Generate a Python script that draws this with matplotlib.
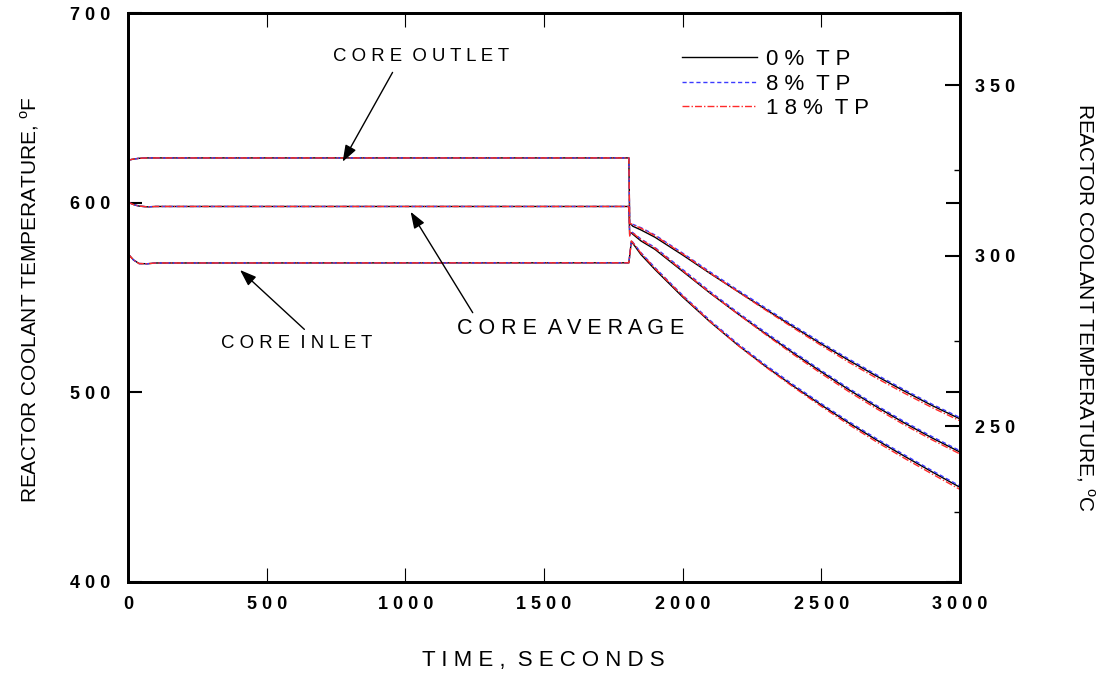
import matplotlib
matplotlib.use("Agg")
import matplotlib.pyplot as plt
from matplotlib import font_manager

# time axis, seconds
t = [0, 20, 40, 70, 100, 1806, 1809, 1815, 1820, 1850, 1900, 2000, 2100,
     2200, 2300, 2400, 2500, 2600, 2700, 2800, 2900, 3000]

# core outlet, deg F
outlet_0 = [622.4, 623.0, 623.4, 623.6, 623.6, 623.6, 589.0, 588.4, 587.6, 585.6, 581.8, 572.4, 562.6,
            553.1, 543.7, 534.5, 525.5, 516.8, 508.5, 500.6, 493.0, 486.0]
outlet_8 = [622.4, 623.0, 623.4, 623.6, 623.6, 623.6, 589.2, 589.0, 588.6, 586.8, 583.0, 573.4, 563.4,
            553.8, 544.4, 535.2, 526.2, 517.5, 509.2, 501.3, 493.7, 486.7]
outlet_18 = [622.4, 623.0, 623.4, 623.6, 623.6, 623.6, 589.0, 588.8, 588.4, 586.5, 582.6, 573.0, 562.8,
             553.0, 543.3, 533.9, 524.7, 515.8, 507.4, 499.5, 491.9, 485.0]

# core average
average_0 = [600.3, 599.0, 598.2, 597.8, 598.0, 598.0, 583.0, 584.2, 583.4, 579.8, 575.4, 563.8, 552.2,
             541.3, 530.8, 520.6, 510.8, 501.3, 492.3, 483.8, 475.9, 468.5]
average_8 = [600.3, 599.0, 598.2, 597.8, 598.0, 598.0, 583.0, 584.8, 584.2, 580.8, 576.4, 564.8, 553.0,
             542.0, 531.5, 521.3, 511.5, 502.0, 493.0, 484.5, 476.6, 469.2]
average_18 = [600.3, 599.0, 598.2, 597.8, 598.0, 598.0, 582.4, 584.6, 584.0, 580.5, 576.0, 564.2, 552.4,
              541.2, 530.4, 519.9, 509.9, 500.3, 491.3, 482.8, 474.9, 467.5]

# core inlet
inlet_0 = [573.0, 569.8, 567.9, 567.8, 568.2, 568.3, 572.0, 579.6, 578.6, 572.6, 564.8, 550.3, 537.0,
           524.8, 513.6, 503.2, 493.3, 483.8, 474.8, 466.3, 458.0, 449.9]
inlet_8 = [573.0, 569.8, 567.9, 567.8, 568.2, 568.3, 572.0, 580.0, 579.2, 573.6, 565.8, 551.2, 537.8,
           525.5, 514.3, 503.9, 494.0, 484.5, 475.5, 467.0, 458.7, 450.6]
inlet_18 = [573.0, 569.8, 567.9, 567.8, 568.2, 568.3, 572.0, 579.8, 579.0, 573.3, 565.4, 550.8, 537.2,
            524.7, 513.3, 502.7, 492.6, 482.9, 473.8, 465.2, 456.9, 448.8]

cases = ["0% TP", "8% TP", "18% TP"]
xticks = [0, 500, 1000, 1500, 2000, 2500, 3000]
yticks_f = [400, 500, 600, 700]
yticks_c = [250, 300, 350]
yminor_c = [225, 275, 325]


def spaced(s):
    return "  ".join(" ".join(w) for w in s.split(" "))


names = {f.name for f in font_manager.fontManager.ttflist}
if "Liberation Sans Narrow" in names:
    narrow, ysize = "Liberation Sans Narrow", 18
else:
    narrow, ysize = "Liberation Sans", 15

plt.rcParams["font.family"] = ["Liberation Sans", "DejaVu Sans"]
plt.rcParams["mathtext.fontset"] = "custom"
plt.rcParams["mathtext.rm"] = narrow

fig = plt.figure(figsize=(11.12, 6.75), dpi=100)
ax = fig.add_axes([0.1151, 0.1378, 0.7482, 0.8429])

styles = [dict(color="black", ls="-", lw=1.0),
          dict(color="#3b3bff", ls=(0, (3, 2)), lw=1.0),
          dict(color="#ff2a2a", ls=(0, (5, 1.5, 1, 1.5)), lw=1.0)]

for k, series in enumerate([(outlet_0, average_0, inlet_0),
                            (outlet_8, average_8, inlet_8),
                            (outlet_18, average_18, inlet_18)]):
    for j, y in enumerate(series):
        ax.plot(t, y, label=spaced(cases[k]) if j == 0 else None, **styles[k])

ax.set_xlim(0, 3000)
ax.set_ylim(400, 700)
ax.set_xticks(xticks)
ax.set_xticklabels([" ".join(str(v)) for v in xticks])
ax.set_yticks(yticks_f)
ax.set_yticklabels([" ".join(str(v)) for v in yticks_f])
for s in ax.spines.values():
    s.set_linewidth(2)
ax.tick_params(axis="x", direction="in", top=True, length=10, width=0.8, pad=10,
               labelsize=13)
ax.tick_params(axis="y", direction="in", left=True, right=True, length=10, width=1.5,
               pad=13, labelsize=13)
for lab in ax.get_xticklabels() + ax.get_yticklabels():
    lab.set_fontweight("bold")

ax2 = ax.twinx()
ax2.set_ylim((400 - 32) * 5 / 9, (700 - 32) * 5 / 9)
ax2.set_yticks(yticks_c)
ax2.set_yticklabels([" ".join(str(v)) for v in yticks_c])
ax2.set_yticks(yminor_c, minor=True)
ax2.tick_params(axis="y", which="major", direction="in", length=11, width=1.5, pad=11,
                labelsize=13)
ax2.tick_params(axis="y", which="minor", direction="in", length=4, width=1.0)
for lab in ax2.get_yticklabels():
    lab.set_fontweight("bold")
for s in ax2.spines.values():
    s.set_linewidth(2)
ax.tick_params(axis="y", right=True, labelright=False)

# annotations
arrow = dict(arrowstyle="-|>,head_length=0.5,head_width=0.18", color="black", lw=1.0,
             mutation_scale=20, shrinkA=0, shrinkB=0)
ax.annotate("", xy=(774, 621.6), xytext=(954, 668.7), arrowprops=arrow)
ax.annotate("", xy=(1019, 595.2), xytext=(1243, 542), arrowprops=arrow)
ax.annotate("", xy=(404, 564.5), xytext=(636, 533.2), arrowprops=arrow)
ax.text(1055, 677, spaced("CORE OUTLET"), ha="center", va="center", fontsize=13.4)
ax.text(1597, 533.9, spaced("CORE AVERAGE"), ha="center", va="center", fontsize=15.5)
ax.text(609, 526, spaced("CORE INLET"), ha="center", va="center", fontsize=13.4)

ax.legend(loc="upper left", bbox_to_anchor=(0.655, 0.952), frameon=False, fontsize=16,
          handlelength=3.4, handletextpad=0.4, labelspacing=0.15, borderaxespad=0)

fig.text(0.4883, 0.0222, spaced("TIME, SECONDS"), ha="center", va="center", fontsize=16)
fig.text(0.027, 0.5556, r"REACTOR COOLANT TEMPERATURE, $^{\mathrm{o}}$F", rotation=90,
         ha="center", va="center", fontsize=ysize, family=[narrow, "DejaVu Sans"])
fig.text(0.9757, 0.5437, r"REACTOR COOLANT TEMPERATURE, $^{\mathrm{o}}$C", rotation=270,
         ha="center", va="center", fontsize=ysize, family=[narrow, "DejaVu Sans"])

fig.savefig("out.png", dpi=100)
